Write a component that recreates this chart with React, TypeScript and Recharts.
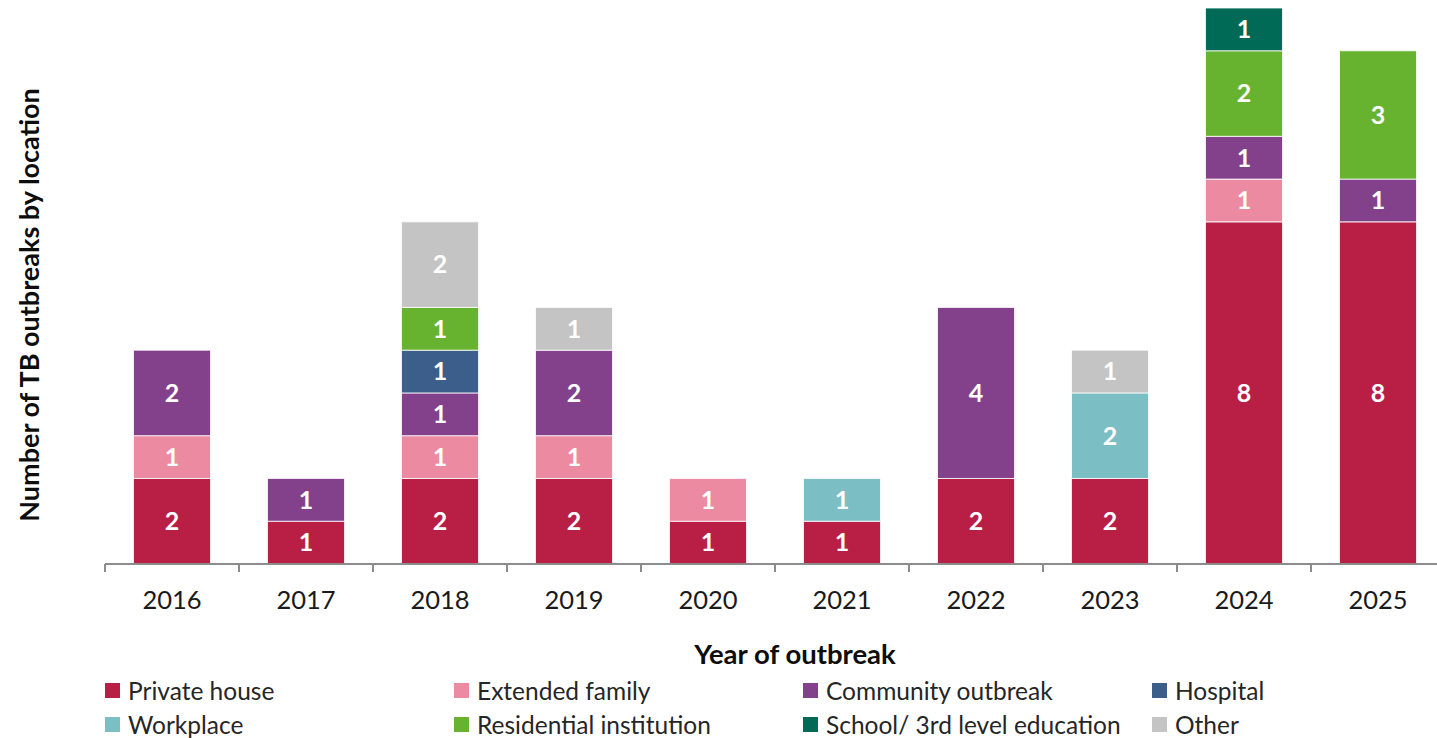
import React from 'react';
import { BarChart, Bar, XAxis, YAxis, Legend, LabelList, Label } from 'recharts';

const years = ['2016', '2017', '2018', '2019', '2020', '2021', '2022', '2023', '2024', '2025'];
const privateHouse = [2, 1, 2, 2, 1, 1, 2, 2, 8, 8];
const extendedFamily = [1, null, 1, 1, 1, null, null, null, 1, null];
const communityOutbreak = [2, 1, 1, 2, null, null, 4, null, 1, 1];
const hospital = [null, null, 1, null, null, null, null, null, null, null];
const workplace = [null, null, null, null, null, 1, null, 2, null, null];
const residentialInstitution = [null, null, 1, null, null, null, null, null, 2, 3];
const schoolEducation = [null, null, null, null, null, null, null, null, 1, null];
const other = [null, null, 2, 1, null, null, null, 1, null, null];

const seriesNames = [
  'Private house',
  'Extended family',
  'Community outbreak',
  'Hospital',
  'Workplace',
  'Residential institution',
  'School/ 3rd level education',
  'Other',
];
const seriesKeys = ['ph', 'ef', 'co', 'ho', 'wp', 'ri', 'se', 'ot'];
const seriesValues = [
  privateHouse,
  extendedFamily,
  communityOutbreak,
  hospital,
  workplace,
  residentialInstitution,
  schoolEducation,
  other,
];
const seriesColors = ['#B91F45', '#EB8AA0', '#83418B', '#3C5E8A', '#7BBFC5', '#67B32F', '#006A56', '#C4C4C4'];

const data = years.map((year, i) => {
  const row: Record<string, any> = { year };
  seriesKeys.forEach((k, s) => {
    const v = seriesValues[s][i];
    if (v !== null && v !== undefined) row[k] = v;
  });
  return row;
});

const FONT = 'Lato, "Open Sans", sans-serif';
const AXIS_COLOR = '#8C8C8C';

const YearTick = (props: any) => {
  const { x, y, payload, index, width, visibleTicksCount } = props;
  const band = width && visibleTicksCount ? width / visibleTicksCount : (payload.offset || 67) * 2;
  const left = x - band / 2;
  const right = x + band / 2;
  return (
    <g>
      <line x1={left} x2={left} y1={y} y2={y + 8} stroke={AXIS_COLOR} strokeWidth={2} />
      {index === visibleTicksCount - 1 && (
        <line x1={right} x2={right} y1={y} y2={y + 8} stroke={AXIS_COLOR} strokeWidth={2} />
      )}
      <text x={x} y={y + 45} textAnchor="middle" fill="#1A1A1A" fontSize={25.5} fontFamily={FONT}>
        {payload.value}
      </text>
    </g>
  );
};

const renderLegend = () => (
  <div
    style={{
      display: 'grid',
      gridTemplateColumns: 'repeat(4, 349px)',
      fontFamily: FONT,
      fontSize: 24.5,
      color: '#262626',
    }}
  >
    {seriesNames.map((name, s) => (
      <div key={name} style={{ display: 'flex', alignItems: 'center', height: 34 }}>
        <span
          style={{
            display: 'inline-block',
            width: 15,
            height: 15,
            background: seriesColors[s],
            marginRight: 8,
          }}
        />
        <span style={{ whiteSpace: 'nowrap' }}>{name}</span>
      </div>
    ))}
  </div>
);

export default function App() {
  return (
    <div
      style={{
        position: 'absolute',
        left: 0,
        top: 0,
        width: 1437,
        height: 738,
        overflow: 'hidden',
        background: '#fff',
        fontFamily: FONT,
      }}
    >
      <BarChart
        width={1460}
        height={738}
        data={data}
        margin={{ top: 8, right: 15, left: 0, bottom: 0 }}
        barCategoryGap={28.5}
      >
        <XAxis
          dataKey="year"
          height={174}
          tickLine={false}
          tickSize={0}
          tickMargin={0}
          interval={0}
          axisLine={{ stroke: AXIS_COLOR, strokeWidth: 2 }}
          tick={<YearTick />}
        >
          <Label
            content={(p: any) => {
              const vb = p.viewBox || {};
              return (
                <text
                  x={vb.x + vb.width / 2 + 20}
                  y={664}
                  textAnchor="middle"
                  fontSize={27.5}
                  fontWeight="bold"
                  fontFamily={FONT}
                  fill="#0D0D0D"
                >
                  Year of outbreak
                </text>
              );
            }}
          />
        </XAxis>
        <YAxis
          width={105}
          domain={[0, 13]}
          allowDataOverflow
          axisLine={false}
          tickLine={false}
          tick={false}
        >
          <Label
            content={() => {
              const cx = 28;
              const cy = 305;
              return (
                <text
                  x={cx}
                  y={cy}
                  transform={`rotate(-90 ${cx} ${cy})`}
                  textAnchor="middle"
                  dominantBaseline="central"
                  fontSize={27}
                  fontWeight="bold"
                  fontFamily={FONT}
                  fill="#0D0D0D"
                >
                  Number of TB outbreaks by location
                </text>
              );
            }}
          />
        </YAxis>
        <Legend
          layout="horizontal"
          verticalAlign="middle"
          align="center"
          content={renderLegend}
          wrapperStyle={{ top: 673, left: 105, width: 1400 }}
        />
        {seriesKeys.map((k, s) => (
          <Bar
            key={k}
            dataKey={k}
            name={seriesNames[s]}
            stackId="a"
            fill={seriesColors[s]}
            stroke="#FFFFFF"
            strokeWidth={0.8}
            isAnimationActive={false}
          >
            <LabelList
              dataKey={k}
              position="center"
              fill="#FFFFFF"
              fontSize={25}
              fontWeight="bold"
              fontFamily={FONT}
            />
          </Bar>
        ))}
      </BarChart>
    </div>
  );
}
